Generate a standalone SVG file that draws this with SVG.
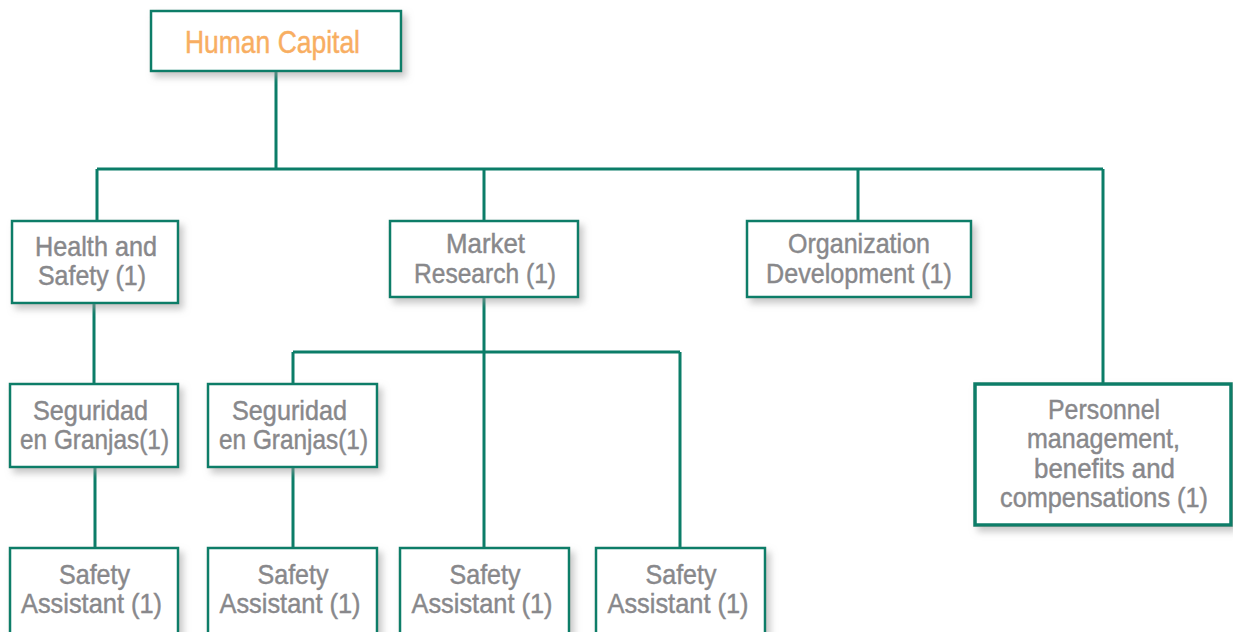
<svg xmlns="http://www.w3.org/2000/svg" width="1233" height="632" viewBox="0 0 1233 632">
<style>
.box{fill:#fff;stroke:#0b7d68;stroke-width:2.5;filter:url(#sh)}
.thick{stroke-width:3.5}
.t{font-family:"Liberation Sans",Arial,sans-serif;font-size:28.5px;fill:#88888b;stroke:#88888b;stroke-width:0.45;text-anchor:middle}
.title{font-family:"Liberation Sans",Arial,sans-serif;font-size:31px;fill:#f8ae62;stroke:#f8ae62;stroke-width:0.45;text-anchor:middle}
.ln{fill:none;stroke:#0b7d68;stroke-width:3}
</style>
<defs>
<filter id="sh" x="-10%" y="-15%" width="125%" height="140%">
<feDropShadow dx="4" dy="5" stdDeviation="3.5" flood-color="#9a9a9a" flood-opacity="0.55"/>
</filter>
</defs>
<rect width="1233" height="632" fill="#fff"/>
<g id="connectors">
<path class="ln" d="M276 71V169M97 169H1103M97 169V221M484 169V221M858 169V221M1103 169V384"/>
<path class="ln" d="M94 303V384M95 467V548"/>
<path class="ln" d="M484 297V548M293 352H680M293 352V384M680 352V548M293 467V548"/>
</g>
<g id="human-capital">
<rect class="box" x="151" y="11" width="250" height="60"/>
<text class="title" x="272.5" y="53" textLength="175" lengthAdjust="spacingAndGlyphs">Human Capital</text>
</g>
<g id="health-safety">
<rect class="box" x="12" y="221" width="166" height="82"/>
<text class="t" x="96" y="256" textLength="122" lengthAdjust="spacingAndGlyphs">Health and</text>
<text class="t" x="92" y="285" textLength="108" lengthAdjust="spacingAndGlyphs">Safety (1)</text>
</g>
<g id="market-research">
<rect class="box" x="390" y="221" width="188" height="76"/>
<text class="t" x="485.5" y="253" textLength="79" lengthAdjust="spacingAndGlyphs">Market</text>
<text class="t" x="485" y="283" textLength="142" lengthAdjust="spacingAndGlyphs">Research (1)</text>
</g>
<g id="organization-development">
<rect class="box" x="747" y="221" width="224" height="76"/>
<text class="t" x="859" y="253" textLength="142" lengthAdjust="spacingAndGlyphs">Organization</text>
<text class="t" x="859" y="283" textLength="186" lengthAdjust="spacingAndGlyphs">Development (1)</text>
</g>
<g id="seguridad-1">
<rect class="box" x="10" y="384" width="168" height="83"/>
<text class="t" x="90.5" y="420" textLength="115" lengthAdjust="spacingAndGlyphs">Seguridad</text>
<text class="t" x="94.5" y="449" textLength="149" lengthAdjust="spacingAndGlyphs">en Granjas(1)</text>
</g>
<g id="seguridad-2">
<rect class="box" x="208" y="384" width="169" height="83"/>
<text class="t" x="289.5" y="420" textLength="115" lengthAdjust="spacingAndGlyphs">Seguridad</text>
<text class="t" x="293.5" y="449" textLength="149" lengthAdjust="spacingAndGlyphs">en Granjas(1)</text>
</g>
<g id="personnel">
<rect class="box thick" x="975" y="384" width="256" height="141"/>
<text class="t" x="1104" y="419" textLength="112" lengthAdjust="spacingAndGlyphs">Personnel</text>
<text class="t" x="1103.5" y="448" textLength="153" lengthAdjust="spacingAndGlyphs">management,</text>
<text class="t" x="1104.5" y="478" textLength="141" lengthAdjust="spacingAndGlyphs">benefits and</text>
<text class="t" x="1104" y="507" textLength="208" lengthAdjust="spacingAndGlyphs">compensations (1)</text>
</g>
<g id="safety-assistant-1">
<rect class="box" x="10" y="548" width="168" height="90"/>
<text class="t" x="94.5" y="584" textLength="71" lengthAdjust="spacingAndGlyphs">Safety</text>
<text class="t" x="91.5" y="613" textLength="141" lengthAdjust="spacingAndGlyphs">Assistant (1)</text>
</g>
<g id="safety-assistant-2">
<rect class="box" x="208" y="548" width="169" height="90"/>
<text class="t" x="293" y="584" textLength="71" lengthAdjust="spacingAndGlyphs">Safety</text>
<text class="t" x="290" y="613" textLength="141" lengthAdjust="spacingAndGlyphs">Assistant (1)</text>
</g>
<g id="safety-assistant-3">
<rect class="box" x="400" y="548" width="169" height="90"/>
<text class="t" x="485" y="584" textLength="71" lengthAdjust="spacingAndGlyphs">Safety</text>
<text class="t" x="482" y="613" textLength="141" lengthAdjust="spacingAndGlyphs">Assistant (1)</text>
</g>
<g id="safety-assistant-4">
<rect class="box" x="596" y="548" width="169" height="90"/>
<text class="t" x="681" y="584" textLength="71" lengthAdjust="spacingAndGlyphs">Safety</text>
<text class="t" x="678" y="613" textLength="141" lengthAdjust="spacingAndGlyphs">Assistant (1)</text>
</g>
</svg>
